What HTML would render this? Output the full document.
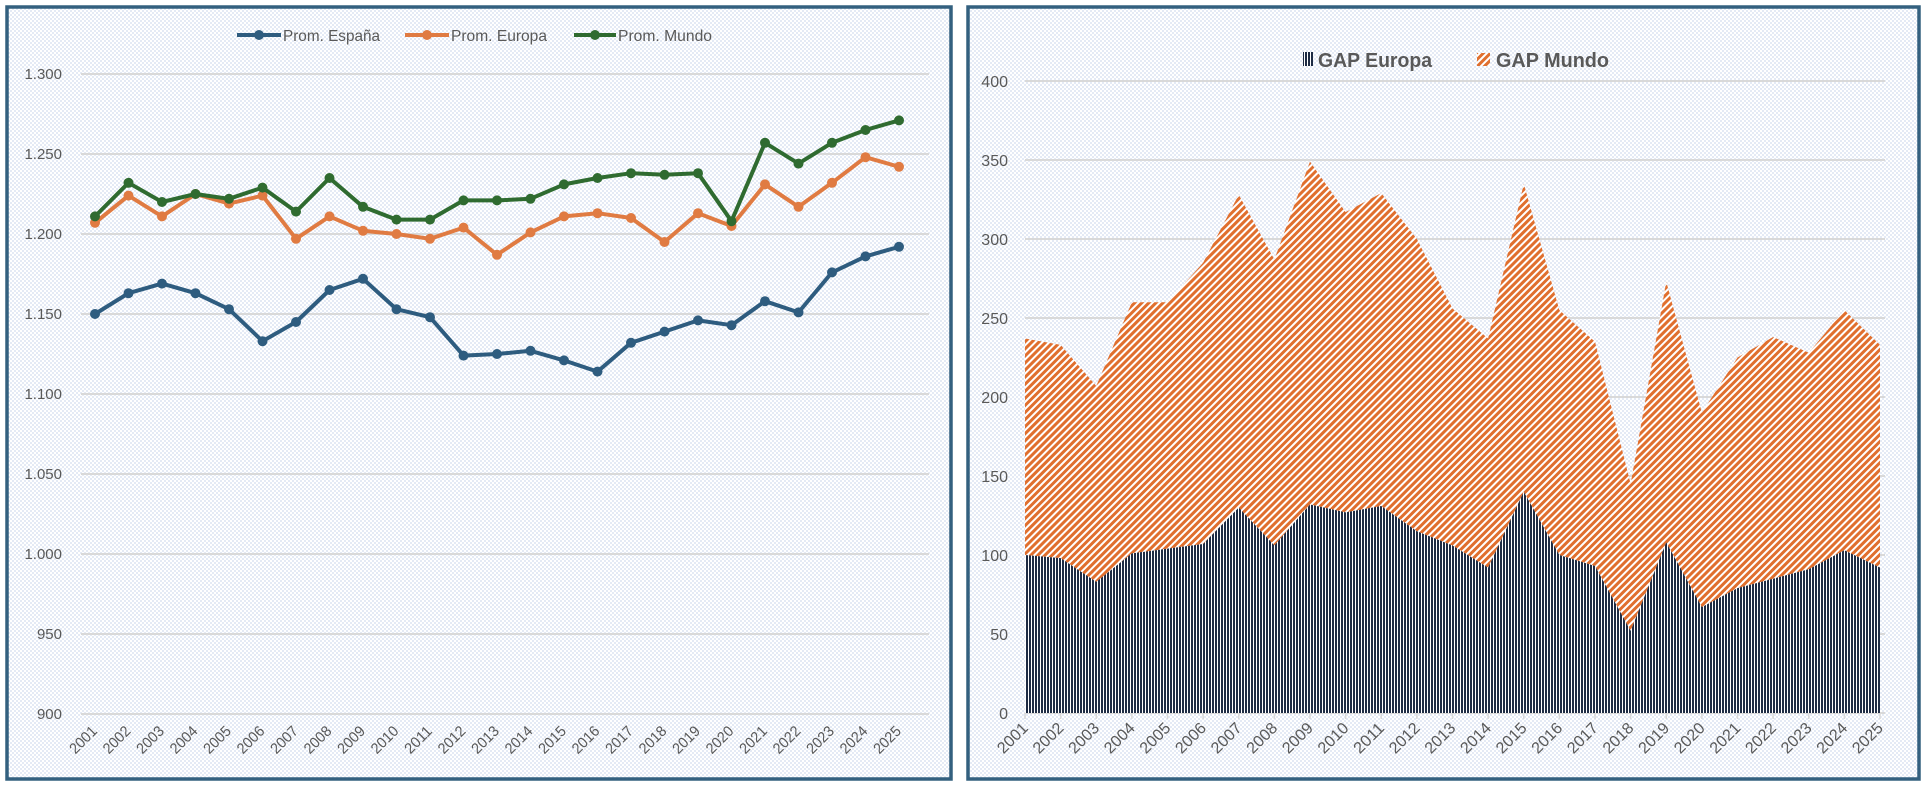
<!DOCTYPE html>
<html><head><meta charset="utf-8">
<style>
html,body{margin:0;padding:0;background:#fff;}
body{width:1928px;height:790px;overflow:hidden;}
svg{display:block;font-family:"Liberation Sans Narrow","Liberation Sans",sans-serif;}
</style></head>
<body>
<svg id="chart" width="1928" height="790" viewBox="0 0 1928 790">
<defs>
<pattern id="dots" width="4" height="4" patternUnits="userSpaceOnUse">
<rect width="4" height="4" fill="#ffffff"/><rect width="2" height="2" fill="#e4eaf5"/><rect x="2" y="2" width="2" height="2" fill="#e4eaf5"/>
</pattern>
<pattern id="vstripe" width="3" height="4" patternUnits="userSpaceOnUse">
<rect width="3" height="4" fill="#ffffff"/><rect width="2" height="4" fill="#1e2c44"/>
</pattern>
<pattern id="dstripe" width="5" height="5" patternUnits="userSpaceOnUse" patternTransform="rotate(45)">
<rect width="5" height="5" fill="#ffffff"/><rect width="3" height="5" fill="#e06f2e"/>
</pattern>
</defs>
<rect x="7" y="7" width="944" height="772" fill="url(#dots)" stroke="#33607f" stroke-width="3.5"/>
<rect x="968" y="7" width="951" height="772" fill="url(#dots)" stroke="#33607f" stroke-width="3.5"/>
<g id="left"></g>
<g id="right"></g>
</svg>
<script>
const years = ['2001','2002','2003','2004','2005','2006','2007','2008','2009','2010','2011','2012','2013','2014','2015','2016','2017','2018','2019','2020','2021','2022','2023','2024','2025'];
const promEspana = [1150,1163,1169,1163,1153,1133,1145,1165,1172,1153,1148,1124,1125,1127,1121,1114,1132,1139,1146,1143,1158,1151,1176,1186,1192];
const promEuropa = [1207,1224,1211,1225,1219,1224,1197,1211,1202,1200,1197,1204,1187,1201,1211,1213,1210,1195,1213,1205,1231,1217,1232,1248,1242];
const promMundo = [1211,1232,1220,1225,1222,1229,1214,1235,1217,1209,1209,1221,1221,1222,1231,1235,1238,1237,1238,1208,1257,1244,1257,1265,1271];
const leftTicks = [900,950,1000,1050,1100,1150,1200,1250,1300];
const leftTickLabels = ['900','950','1.000','1.050','1.100','1.150','1.200','1.250','1.300'];
const gapEuropa = [100,98,83,101,104,107,130,106,132,127,131,115,106,92,140,100,93,52,108,67,79,85,91,103,92];
const gapMundo = [137,135,124,159,156,178,198,181,217,190,198,185,150,145,195,155,142,93,165,123,146,153,137,152,141];
const rightTicks = [0,50,100,150,200,250,300,350,400];

const NS='http://www.w3.org/2000/svg';
function mk(parent,tag,attrs,text){const e=document.createElementNS(NS,tag);for(const k in attrs)e.setAttribute(k,attrs[k]);if(text!==undefined)e.textContent=text;parent.appendChild(e);return e;}

// LEFT CHART
const L=document.getElementById('left');
const lx=i=>95+i*(899-95)/(years.length-1);
const ly=v=>714-(v-900)*(714-74)/400;
leftTicks.forEach((t,i)=>{
  const g=mk(L,'line',{x1:81,x2:929,y1:ly(t),y2:ly(t),stroke:'#d9d9d9','stroke-width':2});
  
  
  const tl=mk(L,'text',{x:62,y:ly(t)+5,'text-anchor':'end','font-size':15,fill:'#595959'},leftTickLabels[i]);
  
  
});
years.forEach((y,i)=>{
  const x=lx(i)+3,yy=732;
  const t=mk(L,'text',{x:x,y:yy,'text-anchor':'end','font-size':15,fill:'#595959',textLength:32,lengthAdjust:'spacingAndGlyphs',transform:`rotate(-45 ${x} ${yy})`},y);
  
  
});
const series=[[promEspana,'#2e5c7f','series-espana'],[promEuropa,'#e07b42','series-europa'],[promMundo,'#2f6b30','series-mundo']];
series.forEach(([d,c,n])=>{
  const g=mk(L,'g',{});
  
  
  const p=mk(g,'polyline',{points:d.map((v,i)=>lx(i)+','+ly(v)).join(' '),fill:'none',stroke:c,'stroke-width':4,'stroke-linejoin':'round'});
  
  
  d.forEach((v,i)=>{const m=mk(g,'circle',{cx:lx(i),cy:ly(v),r:5,fill:c});
    
    });
});
const legL=[['Prom. España','#2e5c7f',237,283,97],['Prom. Europa','#e07b42',405,451,96],['Prom. Mundo','#2f6b30',574,618,94]];
legL.forEach(([t,c,x1,tx,w])=>{
  const g=mk(L,'g',{});
  
  
  mk(g,'line',{x1:x1,x2:tx-2,y1:35,y2:35,stroke:c,'stroke-width':4});
  mk(g,'circle',{cx:(x1+tx-2)/2,cy:35,r:5,fill:c});
  mk(g,'text',{x:tx,y:41,'font-size':16,fill:'#595959',textLength:w,lengthAdjust:'spacingAndGlyphs'},t);
});

// RIGHT CHART
const R=document.getElementById('right');
const rx=i=>1025+i*(1880-1025)/(years.length-1);
const ry=v=>713-v*(713-81)/400;
rightTicks.forEach(t=>{
  const g=mk(R,'line',{x1:1025,x2:1885,y1:ry(t),y2:ry(t),stroke:'#d9d9d9','stroke-width':2});
  
  
  const tl=mk(R,'text',{x:1008,y:ry(t)+6,'text-anchor':'end','font-size':16,fill:'#595959'},String(t));
  
  
});
const tops=gapEuropa.map((v,i)=>v+gapMundo[i]);
let pm='M'+years.map((_,i)=>rx(i)+','+ry(tops[i])).join(' L')+' L'+years.map((_,i)=>rx(years.length-1-i)+','+ry(gapEuropa[years.length-1-i])).join(' L')+'Z';
const am=mk(R,'path',{d:pm,fill:'url(#dstripe)'});


let pe='M'+rx(0)+','+ry(0)+' L'+years.map((_,i)=>rx(i)+','+ry(gapEuropa[i])).join(' L')+' L'+rx(years.length-1)+','+ry(0)+'Z';
const ae=mk(R,'path',{d:pe,fill:'url(#vstripe)'});


years.forEach((y,i)=>{
  const tk=mk(R,'line',{x1:rx(i),x2:rx(i),y1:713,y2:719,stroke:'#d9d9d9','stroke-width':1.5});
  
  
  const x=rx(i)+4,yy=729;
  const t=mk(R,'text',{x:x,y:yy,'text-anchor':'end','font-size':16,fill:'#595959',textLength:36,lengthAdjust:'spacingAndGlyphs',transform:`rotate(-45 ${x} ${yy})`},y);
  
  
});
const g1=mk(R,'g',{});


mk(g1,'rect',{x:1303,y:52,width:10,height:14,fill:'url(#vstripe)'});
mk(g1,'text',{x:1318,y:67,'font-size':20,'font-weight':'bold',fill:'#595959',textLength:114,lengthAdjust:'spacingAndGlyphs'},'GAP Europa');
const g2=mk(R,'g',{});


mk(g2,'rect',{x:1477,y:53,width:13,height:13,fill:'url(#dstripe)'});
mk(g2,'text',{x:1496,y:67,'font-size':20,'font-weight':'bold',fill:'#595959',textLength:113,lengthAdjust:'spacingAndGlyphs'},'GAP Mundo');
</script>
</body></html>
